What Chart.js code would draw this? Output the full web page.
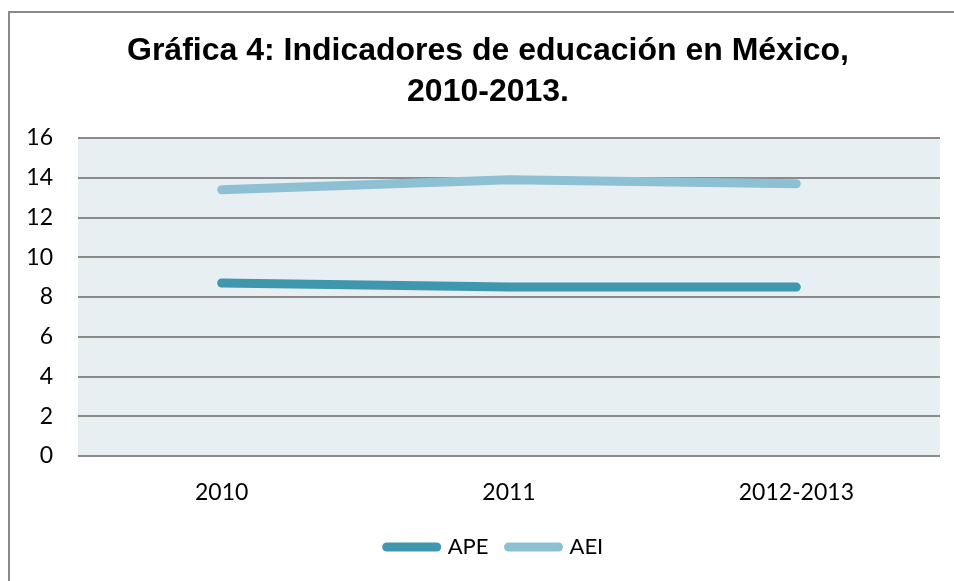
<!DOCTYPE html>
<html>
<head>
<meta charset="utf-8">
<script src="https://cdn.jsdelivr.net/npm/chart.js@4"></script>
<style>
  html, body { margin: 0; padding: 0; background: #ffffff; }
  #wrap { position: absolute; left: 0; top: 0; width: 954px; height: 581px; }
</style>
</head>
<body>
<div id="wrap"><canvas id="c" width="954" height="581"></canvas></div>
<script>
const titleLines = ['Gráfica 4: Indicadores de educación en México,', '2010-2013.'];
const categories = ['2010', '2011', '2012-2013'];
const apeValues = [8.7, 8.5, 8.5];
const aeiValues = [13.4, 13.9, 13.7];
const yTicks = [0, 2, 4, 6, 8, 10, 12, 14, 16];

const frameAndBackground = {
  id: 'frameAndBackground',
  afterLayout(chart) {
    // shift the title and legend boxes so they centre where the original does
    if (chart.titleBlock) { chart.titleBlock.left = 36; }
    if (chart.legend) { chart.legend.left = 50; }
  },
  beforeDraw(chart) {
    const ctx = chart.ctx;
    const a = chart.chartArea;
    ctx.save();
    ctx.fillStyle = '#ffffff';
    ctx.fillRect(0, 0, chart.width, chart.height);
    ctx.strokeStyle = '#8a8a8a';
    ctx.lineWidth = 2;
    ctx.beginPath();
    ctx.moveTo(9, chart.height + 2);
    ctx.lineTo(9, 12);
    ctx.lineTo(chart.width + 2, 12);
    ctx.stroke();
    ctx.fillStyle = '#e8eff3';
    ctx.fillRect(a.left, a.top, a.right - a.left, a.bottom - a.top);
    ctx.restore();
  }
};

new Chart(document.getElementById('c'), {
  type: 'line',
  data: {
    labels: categories,
    datasets: [
      {
        label: 'APE',
        data: apeValues,
        borderColor: '#3f97ae',
        backgroundColor: '#3f97ae',
        borderWidth: 9,
        borderCapStyle: 'round',
        borderJoinStyle: 'round',
        pointRadius: 0,
        tension: 0,
        fill: false
      },
      {
        label: 'AEI',
        data: aeiValues,
        borderColor: '#8dc0d3',
        backgroundColor: '#8dc0d3',
        borderWidth: 9,
        borderCapStyle: 'round',
        borderJoinStyle: 'round',
        pointRadius: 0,
        tension: 0,
        fill: false
      }
    ]
  },
  options: {
    responsive: false,
    animation: false,
    layout: { padding: { left: 0, right: 14, top: 0, bottom: 13 } },
    plugins: {
      title: {
        display: true,
        text: titleLines,
        color: '#000000',
        font: { family: '"Liberation Sans", Arial, sans-serif', size: 32, weight: 'bold', lineHeight: 41 / 32 },
        padding: { top: 31, bottom: 25 }
      },
      legend: {
        display: true,
        position: 'bottom',
        labels: {
          color: '#000000',
          font: { family: 'Lato, "Open Sans", sans-serif', size: 22 },
          usePointStyle: true,
          pointStyle: 'line',
          pointStyleWidth: 50,
          padding: 20,
          generateLabels(chart) {
            const items = Chart.defaults.plugins.legend.labels.generateLabels(chart);
            return items.map(it => Object.assign(it, {
              lineCap: 'round',
              lineWidth: 9,
              strokeStyle: chart.data.datasets[it.datasetIndex].borderColor
            }));
          }
        }
      },
      tooltip: { enabled: false }
    },
    scales: {
      x: {
        offset: true,
        grid: { display: false, drawTicks: false },
        border: { display: false },
        ticks: {
          color: '#000000',
          font: { family: 'Lato, "Open Sans", sans-serif', size: 23 },
          padding: 23,
          maxRotation: 0
        },
        afterFit(scale) { scale.height = 60; }
      },
      y: {
        min: 0,
        max: 16,
        afterBuildTicks(scale) { scale.ticks = yTicks.map(v => ({ value: v })); },
        grid: { color: '#8a8a8a', lineWidth: 2, drawTicks: false },
        border: { display: false },
        ticks: {
          color: '#000000',
          font: { family: 'Lato, "Open Sans", sans-serif', size: 23 },
          padding: 25
        },
        afterFit(scale) { scale.width = 78; }
      }
    }
  },
  plugins: [frameAndBackground]
});
</script>
</body>
</html>
